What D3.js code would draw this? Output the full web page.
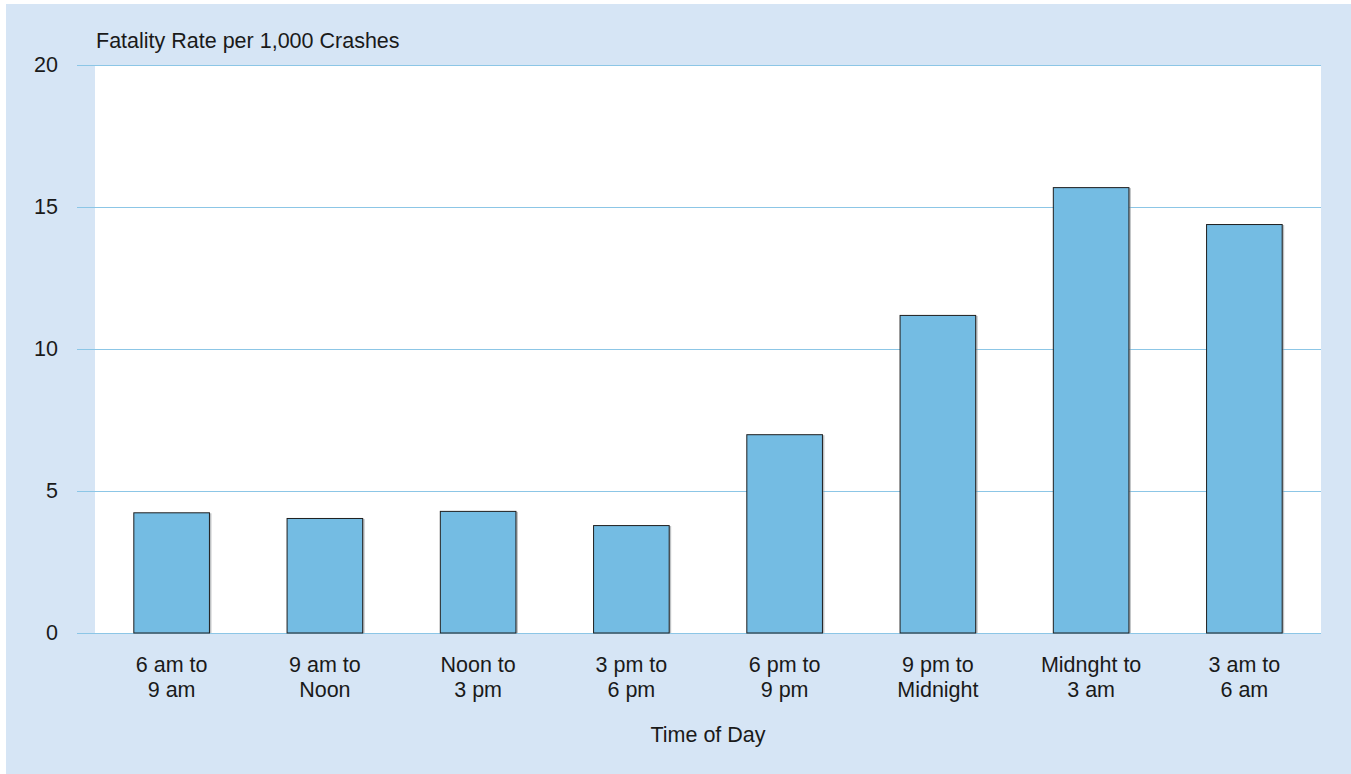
<!DOCTYPE html>
<html>
<head>
<meta charset="utf-8">
<script src="https://cdn.jsdelivr.net/npm/d3@7"></script>
<style>
  html, body { margin: 0; padding: 0; background: #ffffff; }
  svg { display: block; }
  text { font-family: "Liberation Sans", Arial, sans-serif; fill: #1a1a1a; }
</style>
</head>
<body>
<svg id="chart" width="1351" height="774"></svg>
<script>
// Fatality rate per 1,000 crashes by time of day
const categories = [
  ["6 am to", "9 am"],
  ["9 am to", "Noon"],
  ["Noon to", "3 pm"],
  ["3 pm to", "6 pm"],
  ["6 pm to", "9 pm"],
  ["9 pm to", "Midnight"],
  ["Midnght to", "3 am"],
  ["3 am to", "6 am"]
];
const rates = [4.25, 4.05, 4.3, 3.8, 7.0, 11.2, 15.7, 14.4];
const yTicks = [0, 5, 10, 15, 20];
const yTitle = "Fatality Rate per 1,000 Crashes";
const xTitle = "Time of Day";

const FONT = 21.5;
const svg = d3.select("#chart");

// panel background
svg.append("rect")
  .attr("x", 6).attr("y", 4)
  .attr("width", 1351 - 6).attr("height", 774 - 4)
  .attr("fill", "#d6e5f5");

const plot = { left: 95, right: 1321, top: 65, bottom: 633 };

const x = d3.scaleBand()
  .domain(d3.range(categories.length))
  .range([plot.left, plot.right])
  .paddingInner(0.5)
  .paddingOuter(0.25);

const y = d3.scaleLinear()
  .domain([0, 20])
  .range([plot.bottom, plot.top]);

// white plotting area
svg.append("rect")
  .attr("x", plot.left).attr("y", plot.top)
  .attr("width", plot.right - plot.left)
  .attr("height", plot.bottom - plot.top)
  .attr("fill", "#ffffff");

// gridlines and y tick labels
const yAxis = d3.axisLeft(y)
  .tickValues(yTicks)
  .tickSize(-(plot.right - 77))
  .tickPadding(19)
  .tickFormat(d3.format("d"));

const gy = svg.append("g")
  .attr("transform", `translate(77,0)`)
  .call(yAxis);
gy.select(".domain").remove();
gy.selectAll(".tick line")
  .attr("x1", 0)
  .attr("x2", plot.right - 77)
  .attr("stroke", "#8cc6e6")
  .attr("stroke-width", 1.2);
gy.selectAll(".tick text")
  .attr("font-size", FONT)
  .attr("fill", "#1a1a1a")
  .attr("font-family", "Liberation Sans, Arial, sans-serif");

// bars with a soft shadow
const barG = svg.append("g");
barG.selectAll("rect.shadow")
  .data(rates)
  .join("rect")
  .attr("class", "shadow")
  .attr("x", (d, i) => x(i) + 1.5)
  .attr("y", d => y(d) + 1)
  .attr("width", x.bandwidth())
  .attr("height", d => y(0) - y(d) - 1)
  .attr("fill", "#8a8f94")
  .attr("opacity", 0.55);

barG.selectAll("rect.bar")
  .data(rates)
  .join("rect")
  .attr("class", "bar")
  .attr("x", (d, i) => x(i) + 0.5)
  .attr("y", d => y(d) + 0.5)
  .attr("width", x.bandwidth() - 1)
  .attr("height", d => y(0) - y(d) - 0.5)
  .attr("fill", "#74bce3")
  .attr("stroke", "#1e1e1e")
  .attr("stroke-width", 1);

// category labels (two lines each)
const xLab = svg.append("g");
categories.forEach((lines, i) => {
  const cx = x(i) + x.bandwidth() / 2;
  const t = xLab.append("text")
    .attr("text-anchor", "middle")
    .attr("font-size", FONT)
    .attr("x", cx)
    .attr("y", 672);
  lines.forEach((ln, k) => {
    t.append("tspan")
      .attr("x", cx)
      .attr("dy", k === 0 ? 0 : 25)
      .text(ln);
  });
});

// titles
svg.append("text")
  .attr("x", 96).attr("y", 48)
  .attr("font-size", FONT)
  .text(yTitle);

svg.append("text")
  .attr("x", (plot.left + plot.right) / 2)
  .attr("y", 742)
  .attr("text-anchor", "middle")
  .attr("font-size", FONT)
  .text(xTitle);
</script>
</body>
</html>
